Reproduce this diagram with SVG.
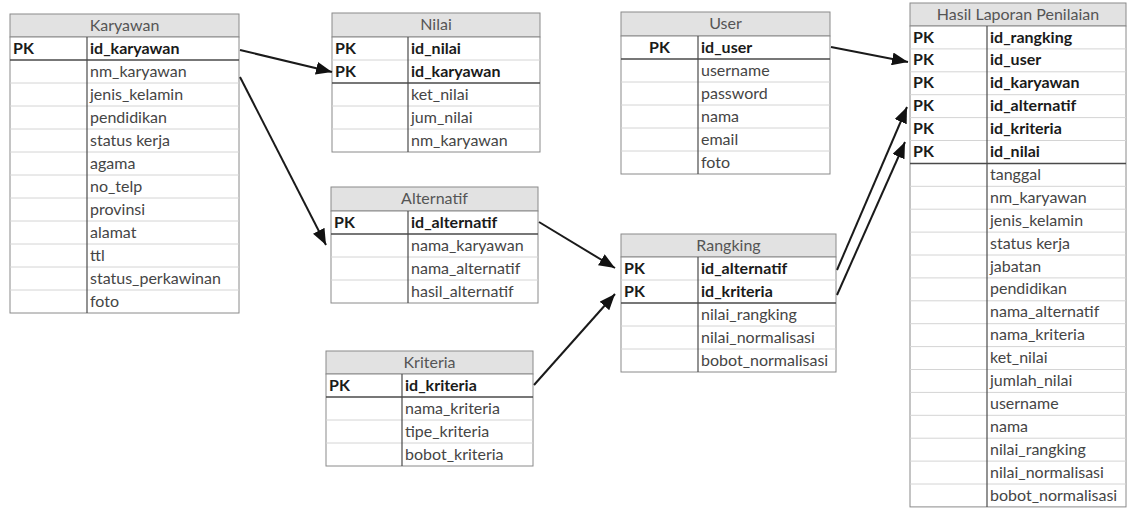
<svg xmlns="http://www.w3.org/2000/svg" width="1128" height="511" viewBox="0 0 1128 511">
<defs>
<marker id="arr" viewBox="0 0 16 13" refX="16" refY="6.5" markerWidth="16" markerHeight="13" markerUnits="userSpaceOnUse" orient="auto">
<path d="M0,0 L16,6.5 L0,13 z" fill="#111"/>
</marker>
</defs>
<style>
.hdr{fill:#e2e2e2;stroke:#8a8a8a;stroke-width:1}
.box{fill:#fff;stroke:#8a8a8a;stroke-width:1}
.rl{stroke:#d4d4d4;stroke-width:1}
.sep{stroke:#4a4a4a;stroke-width:1.5}
.dv{stroke:#4a4a4a;stroke-width:1.2}
text{font-family:Lato,"Liberation Sans",sans-serif;font-size:16px;fill:#454545}
.h{text-anchor:middle;fill:#555}
.b{font-weight:bold;fill:#1a1a1a}
.c{text-anchor:middle}
.ln{stroke:#1a1a1a;stroke-width:2;fill:none;marker-end:url(#arr)}
</style>
<rect width="1128" height="511" fill="#fff"/>

<g id="karyawan">
<rect class="hdr" x="10" y="14" width="229" height="23"/>
<rect class="box" x="10" y="37" width="229" height="276"/>
<path class="rl" d="M10,83H239M10,106H239M10,129H239M10,152H239M10,175H239M10,198H239M10,221H239M10,244H239M10,267H239M10,290H239"/>
<path class="sep" d="M10,60H239"/>
<path class="dv" d="M87,37V313"/>
<text class="h" x="124.5" y="31">Karyawan</text>
<text class="b" x="13" y="54">PK</text>
<text class="b" x="90" y="54">id_karyawan</text>
<text x="90" y="77">nm_karyawan</text>
<text x="90" y="100">jenis_kelamin</text>
<text x="90" y="123">pendidikan</text>
<text x="90" y="146">status kerja</text>
<text x="90" y="169">agama</text>
<text x="90" y="192">no_telp</text>
<text x="90" y="215">provinsi</text>
<text x="90" y="238">alamat</text>
<text x="90" y="261">ttl</text>
<text x="90" y="284">status_perkawinan</text>
<text x="90" y="307">foto</text>
</g>

<g id="nilai">
<rect class="hdr" x="332" y="13" width="208" height="24"/>
<rect class="box" x="332" y="37" width="208" height="115"/>
<path class="rl" d="M332,60H540M332,106H540M332,129H540"/>
<path class="sep" d="M332,83H540"/>
<path class="dv" d="M408,37V152"/>
<text class="h" x="436" y="30">Nilai</text>
<text class="b" x="335" y="54">PK</text>
<text class="b" x="411" y="54">id_nilai</text>
<text class="b" x="335" y="77">PK</text>
<text class="b" x="411" y="77">id_karyawan</text>
<text x="411" y="100">ket_nilai</text>
<text x="411" y="123">jum_nilai</text>
<text x="411" y="146">nm_karyawan</text>
</g>

<g id="alternatif">
<rect class="hdr" x="331" y="187" width="207" height="24"/>
<rect class="box" x="331" y="211" width="207" height="92"/>
<path class="rl" d="M331,257H538M331,280H538"/>
<path class="sep" d="M331,234H538"/>
<path class="dv" d="M408,211V303"/>
<text class="h" x="434.5" y="204">Alternatif</text>
<text class="b" x="334" y="228">PK</text>
<text class="b" x="411" y="228">id_alternatif</text>
<text x="411" y="251">nama_karyawan</text>
<text x="411" y="274">nama_alternatif</text>
<text x="411" y="297">hasil_alternatif</text>
</g>

<g id="kriteria">
<rect class="hdr" x="326" y="351" width="207" height="23"/>
<rect class="box" x="326" y="374" width="207" height="92"/>
<path class="rl" d="M326,420H533M326,443H533"/>
<path class="sep" d="M326,397H533"/>
<path class="dv" d="M402,374V466"/>
<text class="h" x="429.5" y="368">Kriteria</text>
<text class="b" x="329" y="391">PK</text>
<text class="b" x="405" y="391">id_kriteria</text>
<text x="405" y="414">nama_kriteria</text>
<text x="405" y="437">tipe_kriteria</text>
<text x="405" y="460">bobot_kriteria</text>
</g>

<g id="user">
<rect class="hdr" x="621" y="12" width="209" height="24"/>
<rect class="box" x="621" y="36" width="209" height="138"/>
<path class="rl" d="M621,82H830M621,105H830M621,128H830M621,151H830"/>
<path class="sep" d="M621,59H830"/>
<path class="dv" d="M698,36V174"/>
<text class="h" x="725.5" y="29">User</text>
<text class="b c" x="659.5" y="53">PK</text>
<text class="b" x="701" y="53">id_user</text>
<text x="701" y="76">username</text>
<text x="701" y="99">password</text>
<text x="701" y="122">nama</text>
<text x="701" y="145">email</text>
<text x="701" y="168">foto</text>
</g>

<g id="rangking">
<rect class="hdr" x="621" y="234" width="215" height="23"/>
<rect class="box" x="621" y="257" width="215" height="115"/>
<path class="rl" d="M621,280H836M621,326H836M621,349H836"/>
<path class="sep" d="M621,303H836"/>
<path class="dv" d="M698,257V372"/>
<text class="h" x="728.5" y="251">Rangking</text>
<text class="b" x="624" y="274">PK</text>
<text class="b" x="701" y="274">id_alternatif</text>
<text class="b" x="624" y="297">PK</text>
<text class="b" x="701" y="297">id_kriteria</text>
<text x="701" y="320">nilai_rangking</text>
<text x="701" y="343">nilai_normalisasi</text>
<text x="701" y="366">bobot_normalisasi</text>
</g>

<g id="hasil">
<rect class="hdr" x="910" y="3" width="216" height="23"/>
<rect class="box" x="910" y="26" width="216" height="480.9"/>
<path class="rl" d="M910,48.9H1126M910,71.8H1126M910,94.7H1126M910,117.6H1126M910,140.5H1126M910,186.3H1126M910,209.2H1126M910,232.1H1126M910,255H1126M910,277.9H1126M910,300.8H1126M910,323.7H1126M910,346.6H1126M910,369.5H1126M910,392.4H1126M910,415.3H1126M910,438.2H1126M910,461.1H1126M910,484H1126"/>
<path class="sep" d="M910,163.4H1126"/>
<path class="dv" d="M987,26V506.9"/>
<text class="h" x="1018" y="20">Hasil Laporan Penilaian</text>
<text class="b" x="913" y="42.5">PK</text>
<text class="b" x="990" y="42.5">id_rangking</text>
<text class="b" x="913" y="65.4">PK</text>
<text class="b" x="990" y="65.4">id_user</text>
<text class="b" x="913" y="88.3">PK</text>
<text class="b" x="990" y="88.3">id_karyawan</text>
<text class="b" x="913" y="111.2">PK</text>
<text class="b" x="990" y="111.2">id_alternatif</text>
<text class="b" x="913" y="134.1">PK</text>
<text class="b" x="990" y="134.1">id_kriteria</text>
<text class="b" x="913" y="157">PK</text>
<text class="b" x="990" y="157">id_nilai</text>
<text x="990" y="179.9">tanggal</text>
<text x="990" y="202.8">nm_karyawan</text>
<text x="990" y="225.7">jenis_kelamin</text>
<text x="990" y="248.6">status kerja</text>
<text x="990" y="271.5">jabatan</text>
<text x="990" y="294.4">pendidikan</text>
<text x="990" y="317.3">nama_alternatif</text>
<text x="990" y="340.2">nama_kriteria</text>
<text x="990" y="363.1">ket_nilai</text>
<text x="990" y="386">jumlah_nilai</text>
<text x="990" y="408.9">username</text>
<text x="990" y="431.8">nama</text>
<text x="990" y="454.7">nilai_rangking</text>
<text x="990" y="477.6">nilai_normalisasi</text>
<text x="990" y="500.5">bobot_normalisasi</text>
</g>

<g id="connectors">
<line class="ln" x1="240" y1="50" x2="332" y2="72"/>
<line class="ln" x1="240" y1="77" x2="326" y2="245"/>
<line class="ln" x1="539" y1="222" x2="615" y2="268"/>
<line class="ln" x1="534" y1="385" x2="615" y2="294"/>
<line class="ln" x1="831" y1="47" x2="908" y2="62"/>
<line class="ln" x1="837" y1="270" x2="907" y2="107"/>
<line class="ln" x1="837" y1="295" x2="905" y2="142"/>
</g>
</svg>
